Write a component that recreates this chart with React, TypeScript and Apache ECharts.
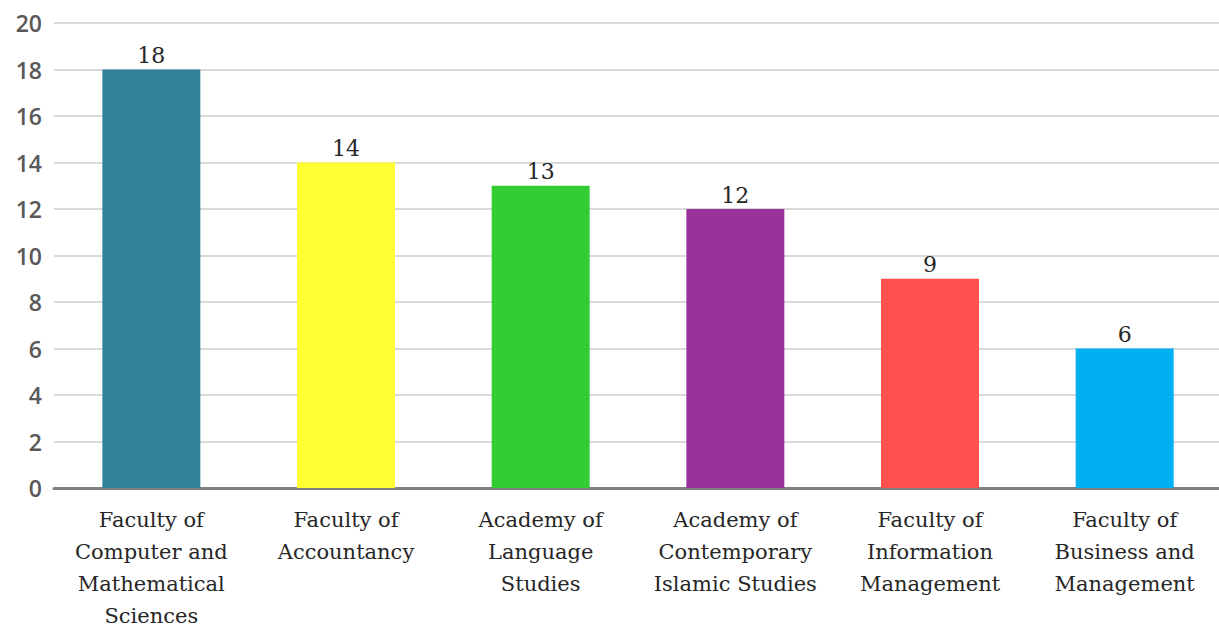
import React, { useEffect, useRef } from "react";
import * as echarts from "echarts";

const categories = [
  "Faculty of\nComputer and\nMathematical\nSciences",
  "Faculty of\nAccountancy",
  "Academy of\nLanguage\nStudies",
  "Academy of\nContemporary\nIslamic Studies",
  "Faculty of\nInformation\nManagement",
  "Faculty of\nBusiness and\nManagement",
];
const values = [18, 14, 13, 12, 9, 6];
const colors = ["#31849B", "#FFFF33", "#33CC33", "#993399", "#FF5050", "#00B0F0"];

export default function App() {
  const ref = useRef<HTMLDivElement>(null);
  useEffect(() => {
    document.body.style.margin = "0";
    const chart = echarts.init(ref.current!, null, { renderer: "svg" });
    chart.setOption({
      animation: false,
      grid: { left: 54, right: -3, top: 23, bottom: 140, outerBoundsMode: "none", containLabel: false },
      xAxis: {
        type: "category",
        data: categories,
        axisLine: { lineStyle: { color: "#808080", width: 3 } },
        axisTick: { show: false },
        axisLabel: {
          interval: 0,
          fontFamily: "DejaVu Serif",
          fontSize: 21,
          color: "#262626",
          lineHeight: 32,
          margin: 16,
        },
      },
      yAxis: {
        type: "value",
        min: 0,
        max: 20,
        interval: 2,
        axisLine: { show: false },
        axisTick: { show: false },
        splitLine: { lineStyle: { color: "#D9D9D9", width: 2 } },
        axisLabel: {
          fontFamily: "Open Sans",
          fontSize: 23,
          fontWeight: 600,
          color: "#595959",
          margin: 12,
        },
      },
      series: [
        {
          type: "bar",
          barWidth: 98,
          data: values.map((v, i) => ({ value: v, itemStyle: { color: colors[i] } })),
          label: {
            show: true,
            position: "top",
            fontFamily: "DejaVu Serif",
            fontSize: 22,
            color: "#262626",
            distance: 3,
          },
        },
      ],
    });
    return () => chart.dispose();
  }, []);
  return <div ref={ref} style={{ width: 1219, height: 628 }} />;
}
